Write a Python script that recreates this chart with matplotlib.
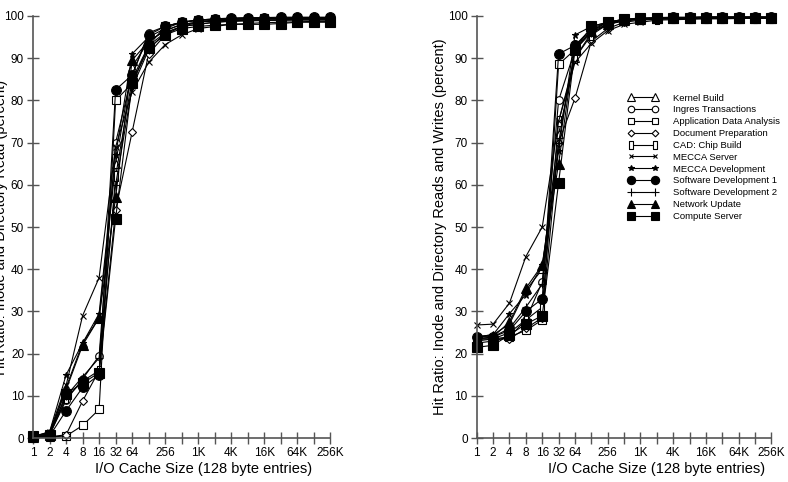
import numpy as np
import matplotlib.pyplot as plt

plt.rcParams['font.family'] = ['Liberation Sans', 'DejaVu Sans']

# cache sizes 1 .. 256K entries (powers of two)
sizes = 2 ** np.arange(19)
tick_labels = {1: '1', 2: '2', 4: '4', 8: '8', 16: '16', 32: '32', 64: '64',
               256: '256', 1024: '1K', 4096: '4K', 16384: '16K',
               65536: '64K', 262144: '256K'}

names = ['Kernel Build', 'Ingres Transactions', 'Application Data Analysis',
         'Document Preparation', 'CAD: Chip Build', 'MECCA Server',
         'MECCA Development', 'Software Development 1',
         'Software Development 2', 'Network Update', 'Compute Server']

# left panel: reads only
reads = [
    [0.3, 1.0, 12.0, 22.5, 28.5, 65.0, 88.0, 94.0, 96.5, 98.0, 98.5, 99.0, 99.0, 99.0, 99.2, 99.3, 99.4, 99.4, 99.4],
    [0.2, 0.8, 9.0, 14.0, 19.5, 70.0, 86.0, 96.0, 97.5, 98.5, 99.0, 99.3, 99.4, 99.5, 99.5, 99.5, 99.6, 99.6, 99.6],
    [0.2, 0.3, 0.5, 3.0, 6.8, 80.0, 84.0, 93.0, 97.5, 98.5, 99.0, 99.2, 99.3, 99.3, 99.4, 99.4, 99.4, 99.4, 99.4],
    [0.1, 0.3, 0.8, 8.8, 16.0, 54.0, 72.5, 91.0, 95.5, 97.5, 98.5, 98.8, 99.0, 99.0, 99.0, 99.0, 99.1, 99.1, 99.1],
    [0.3, 0.8, 9.5, 13.5, 16.0, 62.0, 85.0, 93.0, 96.0, 97.5, 98.0, 98.5, 98.7, 98.8, 98.9, 99.0, 99.0, 99.0, 99.0],
    [0.3, 1.5, 12.5, 29.0, 38.0, 69.0, 82.0, 89.0, 93.2, 95.5, 97.0, 97.5, 98.0, 98.2, 98.4, 98.5, 98.6, 98.7, 98.7],
    [0.4, 1.5, 15.0, 22.5, 29.5, 67.0, 91.0, 95.0, 97.0, 98.5, 99.0, 99.0, 99.2, 99.3, 99.4, 99.5, 99.5, 99.5, 99.5],
    [0.2, 0.5, 6.5, 12.0, 15.0, 82.5, 86.0, 95.5, 97.5, 98.5, 99.0, 99.3, 99.5, 99.6, 99.6, 99.7, 99.7, 99.7, 99.7],
    [0.3, 1.2, 10.0, 14.5, 19.0, 60.0, 83.0, 92.0, 96.0, 97.5, 98.0, 98.5, 98.8, 99.0, 99.0, 99.1, 99.2, 99.2, 99.2],
    [0.3, 1.0, 11.5, 22.0, 28.5, 57.0, 89.5, 94.0, 96.5, 98.0, 98.5, 99.0, 99.2, 99.3, 99.4, 99.4, 99.5, 99.5, 99.5],
    [0.5, 0.8, 10.5, 13.0, 15.5, 52.0, 84.0, 92.5, 95.5, 97.0, 97.5, 97.8, 98.0, 98.0, 98.0, 98.2, 98.5, 98.5, 98.5],
]

# right panel: reads and writes
reads_writes = [
    [24.0, 24.5, 27.0, 35.0, 40.0, 72.0, 90.0, 96.0, 98.0, 98.8, 99.2, 99.4, 99.5, 99.5, 99.6, 99.6, 99.6, 99.6, 99.6],
    [23.5, 23.5, 24.0, 28.0, 37.0, 80.0, 92.0, 96.5, 98.5, 99.0, 99.3, 99.5, 99.6, 99.6, 99.7, 99.7, 99.7, 99.7, 99.7],
    [22.5, 23.0, 24.0, 25.5, 28.0, 88.5, 92.0, 96.5, 98.5, 99.0, 99.3, 99.4, 99.5, 99.5, 99.6, 99.6, 99.6, 99.6, 99.6],
    [23.0, 23.5, 23.5, 26.0, 28.5, 70.0, 80.5, 94.0, 97.0, 98.5, 99.0, 99.2, 99.3, 99.4, 99.4, 99.5, 99.5, 99.5, 99.5],
    [23.5, 23.5, 25.0, 28.0, 31.0, 75.0, 90.0, 95.5, 98.0, 99.0, 99.2, 99.3, 99.4, 99.5, 99.5, 99.5, 99.5, 99.5, 99.5],
    [26.8, 27.0, 32.0, 43.0, 50.0, 75.0, 89.0, 93.5, 96.5, 98.0, 98.5, 99.0, 99.1, 99.2, 99.3, 99.3, 99.4, 99.4, 99.4],
    [24.0, 24.5, 29.5, 34.0, 41.0, 68.0, 95.5, 97.5, 98.5, 99.2, 99.4, 99.5, 99.6, 99.6, 99.7, 99.7, 99.7, 99.7, 99.7],
    [24.0, 24.0, 25.5, 30.0, 33.0, 91.0, 93.0, 97.0, 98.5, 99.2, 99.5, 99.6, 99.7, 99.7, 99.8, 99.8, 99.8, 99.8, 99.8],
    [24.0, 24.0, 26.0, 31.0, 36.5, 70.0, 92.0, 96.0, 98.0, 99.0, 99.2, 99.3, 99.4, 99.5, 99.5, 99.5, 99.5, 99.5, 99.5],
    [23.5, 24.0, 27.5, 35.5, 41.0, 65.0, 93.0, 96.5, 98.0, 99.0, 99.3, 99.4, 99.5, 99.6, 99.6, 99.6, 99.6, 99.6, 99.6],
    [21.5, 22.0, 24.5, 27.0, 29.0, 60.5, 92.0, 97.5, 98.5, 99.2, 99.4, 99.5, 99.5, 99.6, 99.6, 99.6, 99.6, 99.6, 99.6],
]

tall_rect = [(-0.45, -1), (0.45, -1), (0.45, 1), (-0.45, 1), (-0.45, -1)]
styles = [
    dict(marker='^', mfc='white', ms=6),
    dict(marker='o', mfc='white', ms=5.5),
    dict(marker='s', mfc='white', ms=5.5),
    dict(marker='D', mfc='white', ms=4),
    dict(marker=tall_rect, mfc='white', ms=7),
    dict(marker='x', mfc='black', ms=4),
    dict(marker='*', mfc='black', ms=5),
    dict(marker='o', mfc='black', ms=7),
    dict(marker='+', mfc='black', ms=6),
    dict(marker='^', mfc='black', ms=7),
    dict(marker='s', mfc='black', ms=6.5),
]

fig = plt.figure(figsize=(7.88, 4.82), dpi=100)
ax1 = fig.add_axes([0.042, 0.091, 0.377, 0.876])
ax2 = fig.add_axes([0.605, 0.091, 0.374, 0.876])

panels = [
    (ax1, reads, 'Hit Ratio: Inode and Directory Read (percent)', -0.085, 0.575),
    (ax2, reads_writes, 'Hit Ratio: Inode and Directory Reads and Writes (percent)', -0.102, 0.61),
]
for ax, data, ylab, lx, xx in panels:
    for name, vals, st in zip(names, data, styles):
        ax.plot(sizes, vals, color='black', lw=0.8, mec='black', mew=0.8,
                label=name, clip_on=False, **st)
    ax.set_xscale('log', base=2)
    ax.set_xlim(1, 262144)
    ax.set_ylim(0, 100)
    ax.set_xticks(sizes)
    ax.set_xticklabels([tick_labels.get(s, '') for s in sizes])
    ax.minorticks_off()
    ax.set_yticks(np.arange(0, 101, 10))
    for sp in ['top', 'right']:
        ax.spines[sp].set_visible(False)
    for sp in ['left', 'bottom']:
        ax.spines[sp].set_color('#555555')
        ax.spines[sp].set_linewidth(1.2)
    ax.tick_params(direction='inout', length=9, width=1.0, color='#555555',
                   labelsize=8.5, pad=2)
    ax.set_xlabel('I/O Cache Size (128 byte entries)', fontsize=10.5)
    ax.xaxis.set_label_coords(xx, -0.057)
    ax.set_ylabel(ylab, fontsize=10.5)
    ax.yaxis.set_label_coords(lx, 0.5)

ax2.legend(loc='upper left', bbox_to_anchor=(0.5, 0.825), frameon=False,
           fontsize=6.8, numpoints=2, handlelength=3.2, labelspacing=0.3,
           handletextpad=1.6, borderaxespad=0, markerscale=0.85)

fig.savefig('out.png', dpi=100)
